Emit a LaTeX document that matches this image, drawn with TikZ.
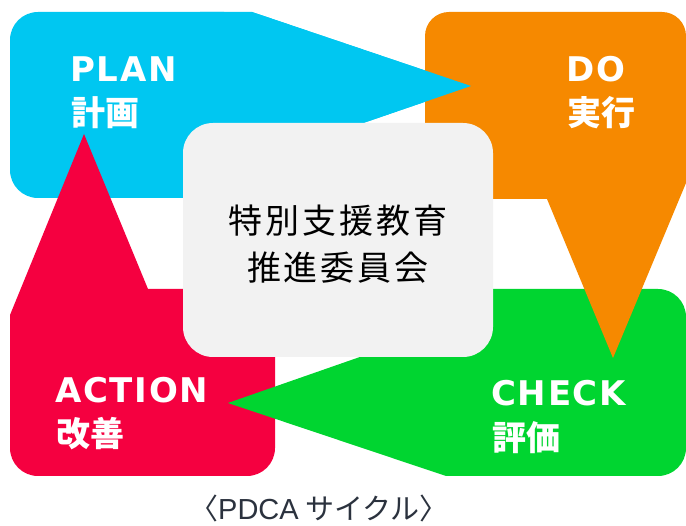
\documentclass[tikz,border=0pt]{standalone}
\usepackage{fontspec}
\setmainfont{DejaVu Sans}
\newfontfamily\jp{Noto Sans CJK JP}
\newfontfamily\lat[LetterSpace=5]{DejaVu Sans}
\newfontfamily\capl{Liberation Sans}
\definecolor{cblue}{RGB}{0,199,241}
\definecolor{corange}{RGB}{246,137,0}
\definecolor{cgreen}{RGB}{0,213,48}
\definecolor{cred}{RGB}{245,0,64}
\definecolor{cgray}{RGB}{242,242,242}
\definecolor{ccap}{RGB}{43,50,62}
\newcommand{\ks}{\hspace{3pt}}
\begin{document}
\begin{tikzpicture}[x=1pt,y=-1pt,
  lab/.style={anchor=base west,inner sep=0pt,text=white,font=\lat\bfseries\fontsize{34}{34}\selectfont},
  jlab/.style={anchor=base west,inner sep=0pt,text=white,font=\jp\bfseries\fontsize{34}{34}\selectfont},
  ctext/.style={anchor=center,inner sep=0pt,text=black,font=\jp\fontsize{34}{34}\selectfont}]
\useasboundingbox (0,0) rectangle (686,526);
\fill[white] (0,0) rectangle (686,526);
% PLAN (blue)
\fill[cblue,rounded corners=28pt] (10,12) rectangle (252,198);
\fill[cblue] (200,12) -- (252,12) -- (471,86) -- (340,131) -- (340,198) -- (200,198) -- cycle;
% ACTION (red)
\fill[cred,rounded corners=28pt] (10,300) rectangle (275,476);
\fill[cred] (10,340) -- (10,315) -- (84,134) -- (148,289) -- (275,289) -- (275,340) -- cycle;
% CHECK (green)
\fill[cgreen,rounded corners=28pt] (446,289) rectangle (686,476);
\fill[cgreen] (480,476) -- (446,476) -- (228,403) -- (400,343) -- (400,289) -- (480,289) -- cycle;
% DO (orange)
\fill[corange,rounded corners=24pt] (425,12) rectangle (686,150);
\fill[corange] (425,100) -- (686,100) -- (686,183) -- (613,358) -- (547,199) -- (425,199) -- cycle;
% blue pointer on top of orange
\fill[cblue] (252,12) -- (471,86) -- (340,131) -- cycle;
% centre box
\fill[cgray,rounded corners=30pt] (183,123) rectangle (493,357);
\node[ctext] (c1) at (338,221) {特\ks 別\ks 支\ks 援\ks 教\ks 育};
\node[ctext] (c2) at (338,268) {推\ks 進\ks 委\ks 員\ks 会};
% labels
\node[lab] (plan) at (70,82) {PLAN};
\node[jlab] (plan2) at (71,126) {計画};
\node[lab] (do) at (566,82) {DO};
\node[jlab] (do2) at (567,126) {実行};
\node[lab] (action) at (55,403) {ACTION};
\node[jlab] (action2) at (56,447) {改善};
\node[lab] (check) at (491,406) {CHECK};
\node[jlab] (check2) at (492,451) {評価};
\node[anchor=base,inner sep=0pt,text=ccap,font=\jp\fontsize{29}{29}\selectfont] (cap) at (319,520) {〈{\capl\fontsize{29}{29}\selectfont PDCA} サイクル〉};
\end{tikzpicture}
\end{document}
